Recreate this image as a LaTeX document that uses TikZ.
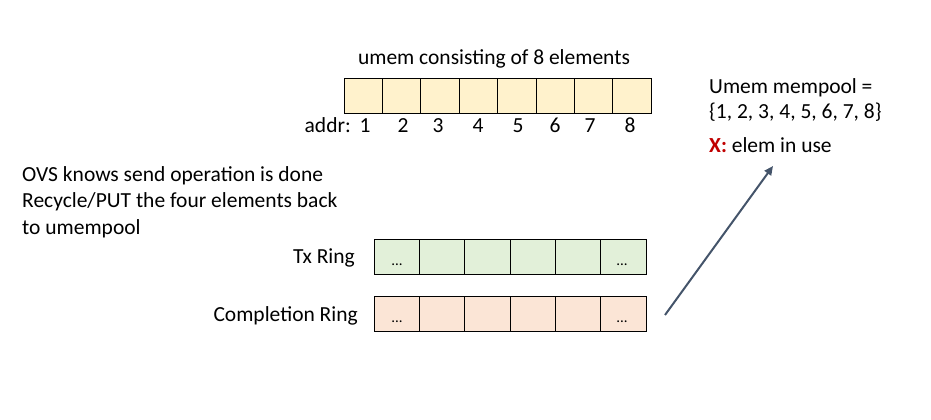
\documentclass[tikz,border=0pt]{standalone}
\usepackage{fontspec}
\setmainfont{Carlito}
\usetikzlibrary{arrows.meta}
\definecolor{umemfill}{HTML}{FFF2CC}
\definecolor{txfill}{HTML}{E2F0D9}
\definecolor{cpfill}{HTML}{FBE5D6}
\definecolor{arrowc}{HTML}{44546A}
\definecolor{xred}{HTML}{C00000}
\tikzset{
  txt/.style={inner sep=0pt, font=\fontsize{21.5}{26}\selectfont},
  cell/.style={draw=black, line width=0.9pt, minimum height=35pt, inner sep=0pt, outer sep=0pt},
  ucell/.style={cell, fill=umemfill, minimum width=38.4pt},
  tcell/.style={cell, fill=txfill, minimum width=45.33pt},
  ccell/.style={cell, fill=cpfill, minimum width=45.33pt},
  dots/.style={inner sep=0pt, anchor=base, font=\fontsize{15}{18}\selectfont},
}
\begin{document}
\begin{tikzpicture}[x=1pt,y=-1pt]
\useasboundingbox (0,0) rectangle (931,420);
% umem array
\foreach \i in {1,...,8}{
  \node[ucell] (u\i) at ({344+38.4*(\i-0.5)},95.5) {};
}
\node[txt, anchor=base] (title) at (494,64) {umem consisting of 8 elements};
\node[txt, anchor=base east] (addr) at (351,132) {addr:};
\node[txt, anchor=base] (a1) at (365,132) {1};
\node[txt, anchor=base] (a2) at (403,132) {2};
\node[txt, anchor=base] (a3) at (438,132) {3};
\node[txt, anchor=base] (a4) at (478,132) {4};
\node[txt, anchor=base] (a5) at (518,132) {5};
\node[txt, anchor=base] (a6) at (555,132) {6};
\node[txt, anchor=base] (a7) at (590,132) {7};
\node[txt, anchor=base] (a8) at (630,132) {8};
% left text
\node[txt, anchor=base west] (l1) at (22,181) {OVS knows send operation is done};
\node[txt, anchor=base west] (l2) at (22,207) {Recycle/PUT the four elements back};
\node[txt, anchor=base west] (l3) at (22,234) {to umempool};
% rings
\foreach \i in {1,...,6}{
  \node[tcell] (t\i) at ({374+45.33*(\i-0.5)},256.5) {};
  \node[ccell] (c\i) at ({374+45.33*(\i-0.5)},313.5) {};
}
\node[dots] (td1) at (397,265) {...};
\node[dots] (td6) at (622,265) {...};
\node[dots] (cd1) at (397,322) {...};
\node[dots] (cd6) at (622,322) {...};
\node[txt, anchor=base east] (txl) at (355,263) {Tx Ring};
\node[txt, anchor=base east] (cpl) at (358,321) {Completion Ring};
% right text
\node[txt, anchor=base west] (r1) at (709,93) {Umem mempool =};
\node[txt, anchor=base west] (r2) at (709,118) {\{1, 2, 3, 4, 5, 6, 7, 8\}};
\node[txt, anchor=base west] (r3) at (709,152) {\textcolor{xred}{\textbf{X:}} elem in use};
% arrow
\coordinate (as) at (665,315);
\coordinate (ae) at (773,166);
\draw[arrowc, line width=2pt, -{Triangle[length=9pt,width=8pt]}] (as) -- (ae);
\end{tikzpicture}
\end{document}
